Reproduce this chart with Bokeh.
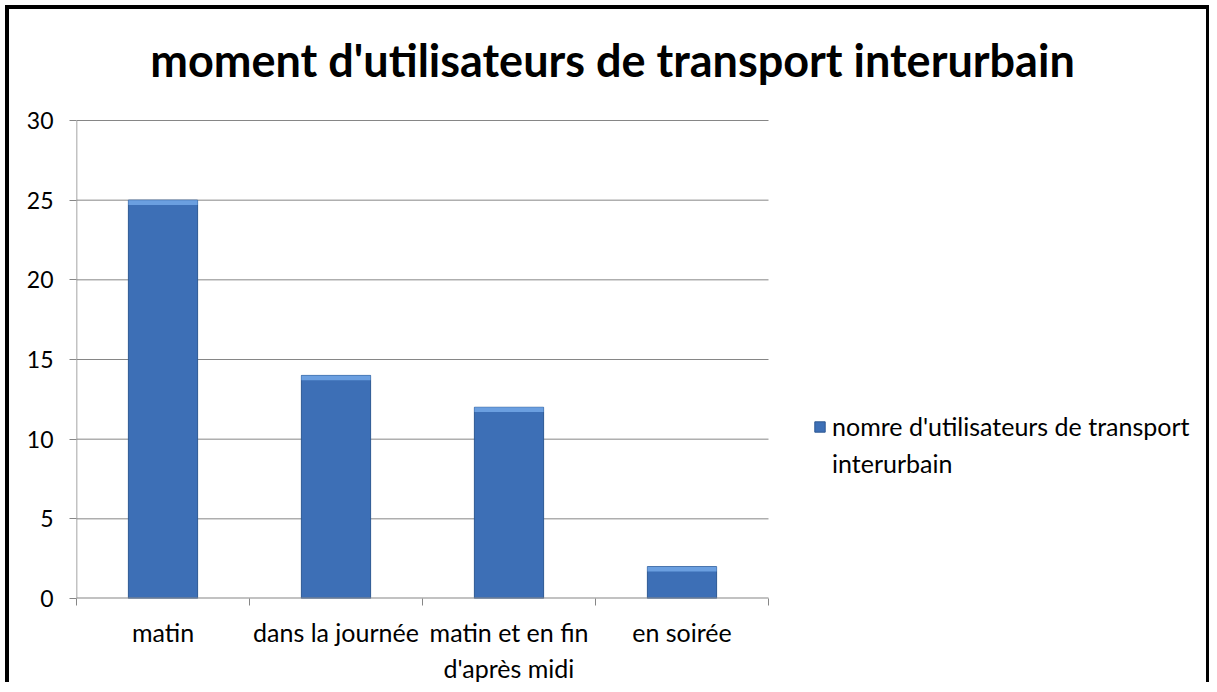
import numpy as np
from bokeh.plotting import figure
from bokeh.models import Range1d, FixedTicker, Legend, LegendItem, Label
from bokeh.embed import file_html
from bokeh.resources import INLINE

# ---- data ----
categories = ["matin", "dans la journée", "matin et en fin\nd'après midi", "en soirée"]
values = [25, 14, 12, 2]
series_name = "nomre d'utilisateurs de transport"
series_name_2 = "interurbain"
title_text = "moment d'utilisateurs de transport interurbain"
y_ticks = [0, 5, 10, 15, 20, 25, 30]

FONT = "Lato"
GRAY = "#868686"

n = len(categories)
x = np.arange(n) + 0.5

# layout: the frame spans the whole canvas except the left/bottom axes;
# the category area occupies its lower-left part
CANVAS_W, CANVAS_H = 1204, 677
LEFT, BOTTOM = 67, 88
CAT_PX_W, CAT_PX_H = 692.0, 478.0
frame_w = CANVAS_W - LEFT
frame_h = CANVAS_H - BOTTOM
x_end = n * frame_w / CAT_PX_W
y_end = y_ticks[-1] * frame_h / CAT_PX_H

p = figure(width=CANVAS_W, height=CANVAS_H, output_backend="svg", toolbar_location=None,
           x_range=Range1d(0, x_end), y_range=Range1d(0, y_end),
           min_border_left=LEFT, min_border_right=0, min_border_top=0,
           min_border_bottom=BOTTOM)
p.styles = {"border-left": "4px solid black", "border-top": "4px solid black",
            "border-right": "3px solid black", "margin-left": "5px", "margin-top": "5px"}
p.outline_line_color = None
p.background_fill_color = "white"
p.border_fill_color = "white"

# grid lines and axis lines limited to the category area
p.xgrid.grid_line_color = None
p.ygrid.grid_line_color = None
p.segment(x0=0, x1=n, y0=y_ticks[1:], y1=y_ticks[1:], line_color=GRAY, line_width=1)
p.segment(x0=0, x1=0, y0=y_ticks[0], y1=y_ticks[-1], line_color=GRAY, line_width=1.5)

# y axis
p.yaxis.ticker = FixedTicker(ticks=y_ticks)
p.yaxis.axis_line_color = None
p.yaxis.major_tick_line_color = GRAY
p.yaxis.major_tick_out = 7
p.yaxis.major_tick_in = 0
p.yaxis.minor_tick_line_color = None
p.yaxis.major_label_text_font = FONT
p.yaxis.major_label_text_font_size = "23px"
p.yaxis.major_label_text_color = "black"
p.yaxis.major_label_standoff = 16

# x axis: labels at centres, ticks at category boundaries
p.xaxis.ticker = FixedTicker(ticks=list(x), minor_ticks=list(np.arange(n + 1)))
p.xaxis.major_label_overrides = {float(xx): c for xx, c in zip(x, categories)}
p.xaxis.axis_line_color = None
p.xaxis.major_tick_out = 0
p.xaxis.major_tick_in = 0
p.xaxis.minor_tick_line_color = GRAY
p.xaxis.minor_tick_out = 7
p.xaxis.minor_tick_in = 0
p.xaxis.major_label_text_font = FONT
p.xaxis.major_label_text_font_size = "25px"
p.xaxis.major_label_text_color = "black"
p.xaxis.major_label_standoff = 11

# bars
bars = p.vbar(x=x, top=values, bottom=0, width=0.4, fill_color="#3d6fb6",
              line_color="#2d5993", line_width=1)
p.vbar(x=x, top=values, bottom=np.array(values) - 0.3, width=0.4,
       fill_color="#6b9fe0", line_color=None)
p.segment(x0=0, x1=n, y0=y_ticks[0], y1=y_ticks[0], line_color=GRAY, line_width=2)

# title (inside the frame, which reaches the top of the canvas)
p.add_layout(Label(x=536, y=539, x_units="screen", y_units="screen", text=title_text,
                   text_font=FONT, text_font_style="bold", text_font_size="45px",
                   text_align="center", text_baseline="middle", text_color="black"))

# invisible renderer to carry the second legend line
ghost = p.scatter(x=[], y=[], fill_alpha=0, line_alpha=0)

legend = Legend(items=[LegendItem(label=series_name, renderers=[bars]),
                       LegendItem(label=series_name_2, renderers=[ghost])],
                location=(737, 120), glyph_width=13, glyph_height=13,
                label_standoff=6, label_height=30, spacing=7, padding=0, margin=0,
                border_line_color=None, background_fill_alpha=0,
                label_text_font=FONT, label_text_font_size="25px",
                label_text_color="black")
p.add_layout(legend, "center")

open("out.html", "w").write(file_html(p, INLINE))
